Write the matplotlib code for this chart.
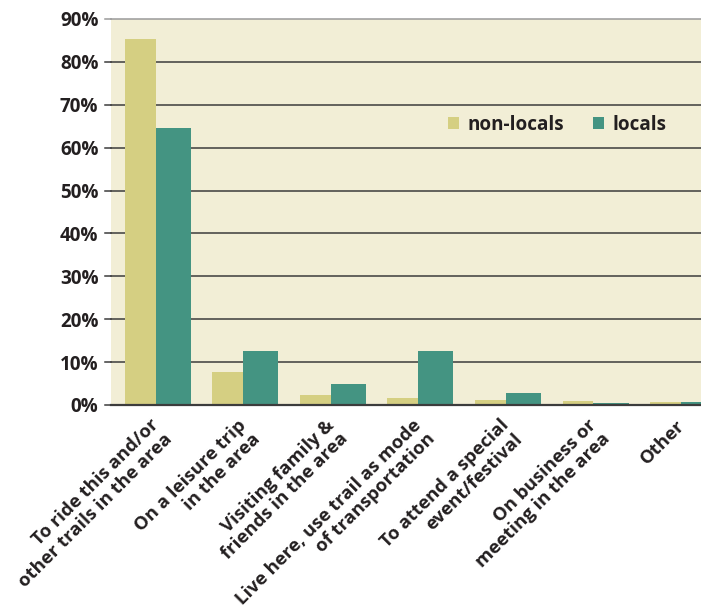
import numpy as np
import matplotlib
matplotlib.use("Agg")
import matplotlib.pyplot as plt
import matplotlib.transforms as mtransforms
from matplotlib.ticker import FuncFormatter

plt.rcParams["font.family"] = ["Open Sans", "DejaVu Sans"]
plt.rcParams["font.weight"] = "bold"

reasons = [
    "To ride this and/or\nother trails in the area",
    "On a leisure trip\nin the area",
    "Visiting family &\nfriends in the area",
    "Live here, use trail as mode\nof transportation",
    "To attend a special\nevent/festival",
    "On business or\nmeeting in the area",
    "Other",
]
non_locals = [85.3, 7.7, 2.3, 1.6, 1.2, 1.0, 0.8]
locals_ = [64.6, 12.6, 4.9, 12.6, 2.8, 0.5, 0.8]
y_ticks = [0, 10, 20, 30, 40, 50, 60, 70, 80, 90]

NON_LOCAL_COLOR = "#d5cf82"
LOCAL_COLOR = "#449482"
PANEL_COLOR = "#f2eed6"
TEXT_COLOR = "#231f20"
FONT_SIZE = 13.6
LABEL_SIZE = 13.3

fig = plt.figure(figsize=(7.01, 6.08), dpi=100)
ax = fig.add_axes([0.1583, 0.3339, 0.8417, 0.6349])
ax.set_facecolor(PANEL_COLOR)

x = np.arange(len(reasons))
ax.bar(x, non_locals, width=-0.354, align="edge", color=NON_LOCAL_COLOR,
       label="non-locals", zorder=3)
ax.bar(x, locals_, width=0.40, align="edge", color=LOCAL_COLOR,
       label="locals", zorder=3)

ax.set_xlim(-0.512, 6.228)
ax.set_ylim(0, 90)

# horizontal rules, drawn past the left edge like short ticks
for yv in y_ticks:
    col = "#9a9a9a" if yv == 90 else "#3c3c3c"
    ax.axhline(yv, color=col, lw=1.1, zorder=2, clip_on=False)
    ax.plot([-0.512 - 6 / 87.54, -0.512], [yv, yv], color=col, lw=1.1,
            clip_on=False, zorder=2)
ax.axhline(0, color="#3c3c3c", lw=1.6, zorder=4, clip_on=False)

for s in ax.spines.values():
    s.set_visible(False)

ax.set_yticks(y_ticks)
ax.yaxis.set_major_formatter(FuncFormatter(lambda v, _p: f"{int(v)}%"))
ax.tick_params(axis="y", length=0, pad=9, labelsize=FONT_SIZE,
               labelcolor=TEXT_COLOR)

ax.set_xticks(x)
ax.set_xticklabels(reasons, rotation=45, ha="right", va="top",
                   rotation_mode="anchor", multialignment="right",
                   linespacing=1.1, fontsize=LABEL_SIZE, color=TEXT_COLOR)
ax.tick_params(axis="x", length=0, pad=8)
shift = mtransforms.ScaledTranslation(-6 / 100, 0, fig.dpi_scale_trans)
for lbl in ax.get_xticklabels():
    lbl.set_transform(lbl.get_transform() + shift)

leg = ax.legend(loc="center left", bbox_to_anchor=(0.571, 0.725), ncol=2,
                frameon=False, borderpad=0, borderaxespad=0,
                handlelength=0.6, handleheight=0.6, handletextpad=0.45,
                columnspacing=1.5, prop={"size": FONT_SIZE, "weight": "bold"})
for t in leg.get_texts():
    t.set_color(TEXT_COLOR)

fig.savefig("out.png", dpi=100)
